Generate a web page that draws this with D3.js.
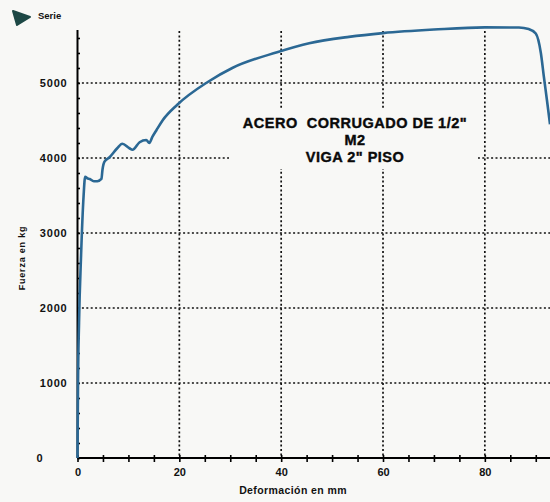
<!DOCTYPE html>
<html>
<head>
<meta charset="utf-8">
<script src="https://cdn.jsdelivr.net/npm/d3@7"></script>
<style>
  body { margin: 0; background: #f8f8f6; }
  svg { display: block; font-family: "Liberation Sans", Arial, sans-serif; font-weight: bold; }
  .title { white-space: pre; }
</style>
</head>
<body>
<svg id="chart"></svg>
<script>
// deformation (mm) and force (kg)
const deformation = [0, 0.1, 0.3, 0.7, 1.2, 1.5, 1.9, 2.4, 3.2, 3.9, 4.7, 4.9, 5.3, 6.3, 7.8, 8.8, 10.2, 10.8,
  12.2, 13.5, 14.1, 14.7, 15.5, 16.7, 19.6, 25.5, 30.4, 39.2, 45.5, 53.3, 60, 70, 80, 86.7, 88.6, 90, 91, 91.6, 92.2, 92.8];
const force = [0, 1000, 1800, 2700, 3500, 3750, 3730, 3720, 3690, 3690, 3720, 3840, 3950, 4010, 4130, 4190, 4130, 4110,
  4210, 4240, 4200, 4280, 4370, 4500, 4710, 5010, 5200, 5410, 5530, 5615, 5665, 5712, 5742, 5740, 5720, 5660, 5400, 5080, 4770, 4450];

const xTicks = [0, 20, 40, 60, 80];
const yTicks = [0, 1000, 2000, 3000, 4000, 5000];
const titleLines = ['ACERO  CORRUGADO DE 1/2"', 'M2', 'VIGA 2" PISO'];
const seriesName = 'Serie';
const xLabel = 'Deformación en mm';
const yLabel = 'Fuerza en kg';

const W = 550, H = 502;
const svg = d3.select('#chart').attr('width', W).attr('height', H);

const x = d3.scaleLinear().domain([0, 92.6]).range([77.5, 549]);
const y = d3.scaleLinear().domain([0, 5693]).range([458, 31]);

// dotted grid
const grid = svg.append('g').attr('stroke', '#111').attr('stroke-width', 1.7).attr('stroke-dasharray', '2,2.4');
grid.selectAll('.hg').data(yTicks.filter(d => d > 0)).join('line')
  .attr('x1', x(0)).attr('x2', W).attr('y1', d => y(d)).attr('y2', d => y(d));
grid.selectAll('.vg').data(xTicks.filter(d => d > 0)).join('line')
  .attr('x1', d => x(d)).attr('x2', d => x(d)).attr('y1', y(5693)).attr('y2', y(0));

// title box hides the grid behind it
svg.append('rect').attr('x', 229).attr('y', 108).attr('width', 249).attr('height', 61).attr('fill', '#f8f8f6');
svg.append('g').attr('text-anchor', 'middle').attr('font-size', 14.5).attr('letter-spacing', 0.5).attr('fill', '#0a0a0a')
  .attr('stroke', '#0a0a0a').attr('stroke-width', 0.4)
  .selectAll('text').data(titleLines).join('text').attr('class', 'title')
  .attr('x', 355).attr('y', (d, i) => 128 + i * 17)
  .text(d => d);

// axes
const xAxis = svg.append('g').attr('transform', `translate(0,${y(0)})`)
  .call(d3.axisBottom(x).tickValues(d3.range(0, 95, 5)).tickSize(4).tickFormat(d => xTicks.includes(d) ? d : ''));
xAxis.select('.domain').attr('d', `M${x(0)},0H${W}`).attr('stroke-width', 2);
xAxis.selectAll('.tick line').attr('y1', -3).attr('stroke-width', 1.6);
xAxis.selectAll('.tick text').attr('font-size', 11).attr('font-weight', 'bold').attr('fill', '#111').attr('dy', '1.0em');

const yAxis = svg.append('g').attr('transform', `translate(${x(0)},0)`)
  .call(d3.axisLeft(y).tickValues(d3.range(0, 5700, 200)).tickSize(3).tickFormat(d => yTicks.includes(d) ? d : ''));
yAxis.select('.domain').attr('d', `M0,${y(5693) - 1}V${y(0)}`).attr('stroke-width', 2);
yAxis.selectAll('.tick line').attr('x2', 2.5).attr('stroke-width', 1.6);
yAxis.selectAll('.tick text').attr('font-size', 11).attr('font-weight', 'bold').attr('fill', '#111')
  .attr('letter-spacing', 0.8).attr('x', d => d === 0 ? -34 : -10);

// curve
svg.append('path')
  .datum(deformation.map((d, i) => [d, force[i]]))
  .attr('fill', 'none').attr('stroke', '#2b6894').attr('stroke-width', 2.6).attr('stroke-linejoin', 'round')
  .attr('d', d3.line().x(d => x(d[0])).y(d => y(d[1])).curve(d3.curveMonotoneX));

// axis titles
svg.append('text').attr('x', 293).attr('y', 494).attr('text-anchor', 'middle')
  .attr('font-size', 10.5).attr('letter-spacing', 0.4).attr('fill', '#111').text(xLabel);
svg.append('text').attr('transform', 'translate(25,258) rotate(-90)').attr('text-anchor', 'middle')
  .attr('font-size', 9).attr('letter-spacing', 0.8).attr('fill', '#111').text(yLabel);

// legend
svg.append('path').attr('d', 'M13,11 L30,17 L17,25 Z').attr('fill', '#1d4845')
  .attr('stroke', '#1d4845').attr('stroke-width', 2).attr('stroke-linejoin', 'round');
svg.append('text').attr('x', 38).attr('y', 19).attr('font-size', 9.5).attr('fill', '#111').text(seriesName);
</script>
</body>
</html>
